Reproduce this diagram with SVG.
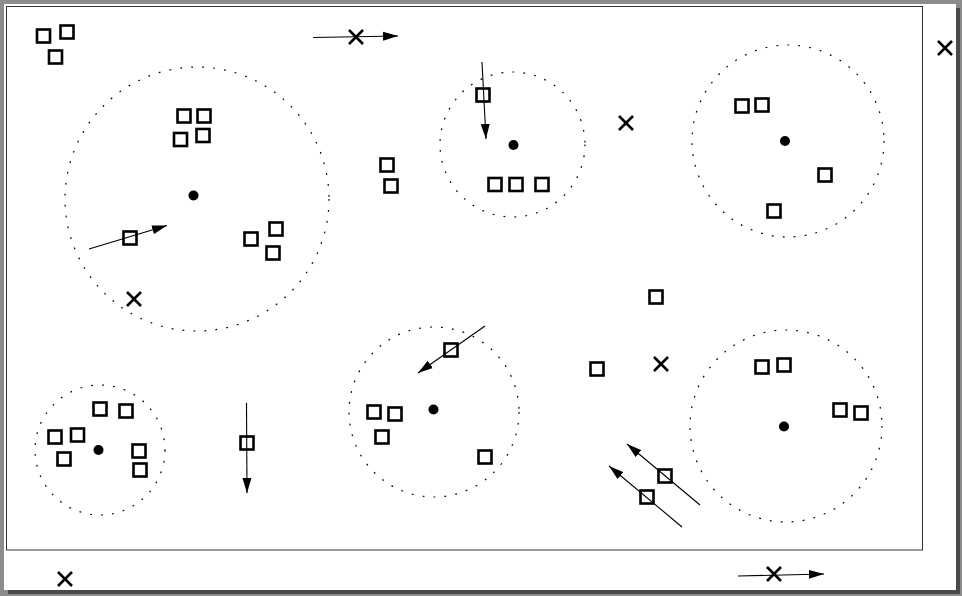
<svg xmlns="http://www.w3.org/2000/svg" width="962" height="596" viewBox="0 0 962 596">
<style>
.sq{fill:none;stroke:#000;stroke-width:2.6}
.cl{fill:none;stroke:#000;stroke-width:1.2;stroke-dasharray:1.8 9.2}
.dot{fill:#000}
.ln{fill:none;stroke:#000;stroke-width:1.1}
.x{fill:none;stroke:#000;stroke-width:2.6}
</style>
<defs>
<marker id="ah" markerUnits="userSpaceOnUse" markerWidth="16" markerHeight="10" refX="15" refY="5" orient="auto">
<path d="M0,0.5 L15,5 L0,9.5 z" fill="#000"/>
</marker>
<g id="xm"><path d="M-7,-7 L7,7 M-7,7 L7,-7" class="x"/></g>
</defs>
<rect x="0" y="0" width="962" height="596" fill="#8c8c8c"/>
<rect x="8" y="8" width="952" height="586" fill="#4a4a4a"/>
<rect x="4" y="4" width="952" height="586" fill="#ffffff"/>
<rect x="6.5" y="6.5" width="916" height="543.5" fill="none" stroke="#333" stroke-width="1"/>

<g id="cluster1">
<circle cx="197" cy="199" r="132" class="cl"/>
<circle cx="193.5" cy="195.5" r="5" class="dot"/>
<rect x="177.5" y="109.5" width="13" height="13" class="sq"/>
<rect x="197.5" y="109.5" width="13" height="13" class="sq"/>
<rect x="174" y="133" width="13" height="13" class="sq"/>
<rect x="196.5" y="129" width="13" height="13" class="sq"/>
<rect x="244.5" y="232.5" width="13" height="13" class="sq"/>
<rect x="269.5" y="222.5" width="13" height="13" class="sq"/>
<rect x="266.5" y="246.5" width="13" height="13" class="sq"/>
<rect x="123.5" y="231.5" width="13" height="13" class="sq"/>
</g>
<g id="cluster2">
<circle cx="512.5" cy="144.5" r="72.5" class="cl"/>
<circle cx="513.5" cy="145" r="5" class="dot"/>
<rect x="476.5" y="88.5" width="13" height="13" class="sq"/>
<rect x="488.5" y="178" width="13" height="13" class="sq"/>
<rect x="509.5" y="178" width="13" height="13" class="sq"/>
<rect x="535.5" y="178" width="13" height="13" class="sq"/>
</g>
<g id="cluster3">
<circle cx="788" cy="141" r="96" class="cl"/>
<circle cx="785" cy="141" r="5" class="dot"/>
<rect x="735.5" y="99.5" width="13" height="13" class="sq"/>
<rect x="755.5" y="98.5" width="13" height="13" class="sq"/>
<rect x="818.5" y="168.5" width="13" height="13" class="sq"/>
<rect x="767.5" y="204.5" width="13" height="13" class="sq"/>
</g>
<g id="cluster4">
<circle cx="100" cy="450" r="65" class="cl"/>
<circle cx="98.5" cy="450" r="5" class="dot"/>
<rect x="93.5" y="402.5" width="13" height="13" class="sq"/>
<rect x="119.5" y="404.5" width="13" height="13" class="sq"/>
<rect x="48.5" y="430.5" width="13" height="13" class="sq"/>
<rect x="71" y="428.5" width="13" height="13" class="sq"/>
<rect x="57.5" y="452.5" width="13" height="13" class="sq"/>
<rect x="132.5" y="444.5" width="13" height="13" class="sq"/>
<rect x="133.5" y="463.5" width="13" height="13" class="sq"/>
</g>
<g id="cluster5">
<circle cx="434" cy="412" r="85" class="cl"/>
<circle cx="433.5" cy="409.5" r="5" class="dot"/>
<rect x="444.5" y="343.5" width="13" height="13" class="sq"/>
<rect x="367.5" y="405.5" width="13" height="13" class="sq"/>
<rect x="388.5" y="407.5" width="13" height="13" class="sq"/>
<rect x="375.5" y="430.5" width="13" height="13" class="sq"/>
<rect x="478.5" y="450.5" width="13" height="13" class="sq"/>
</g>
<g id="cluster6">
<circle cx="786" cy="426" r="96" class="cl"/>
<circle cx="784" cy="426.5" r="5" class="dot"/>
<rect x="755.5" y="360.5" width="13" height="13" class="sq"/>
<rect x="777.5" y="358.5" width="13" height="13" class="sq"/>
<rect x="833.5" y="403.5" width="13" height="13" class="sq"/>
<rect x="854.5" y="406.5" width="13" height="13" class="sq"/>
</g>
<g id="loose">
<rect x="37" y="29.5" width="13" height="13" class="sq"/>
<rect x="60.5" y="25.5" width="13" height="13" class="sq"/>
<rect x="49" y="50.5" width="13" height="13" class="sq"/>
<rect x="380.5" y="158.5" width="13" height="13" class="sq"/>
<rect x="384.5" y="179.5" width="13" height="13" class="sq"/>
<rect x="649.5" y="290.5" width="13" height="13" class="sq"/>
<rect x="590.5" y="362.5" width="13" height="13" class="sq"/>
<rect x="240.5" y="436.5" width="13" height="13" class="sq"/>
<rect x="658.5" y="469.5" width="13" height="13" class="sq"/>
<rect x="640.5" y="490.5" width="13" height="13" class="sq"/>
<use href="#xm" x="356" y="37"/>
<use href="#xm" x="945" y="48"/>
<use href="#xm" x="626" y="123"/>
<use href="#xm" x="134" y="299"/>
<use href="#xm" x="661" y="364"/>
<use href="#xm" x="65" y="579"/>
<use href="#xm" x="774" y="574"/>
</g>
<g id="connectors">
<path d="M313,37.5 L398,36" class="ln" marker-end="url(#ah)"/>
<path d="M482,62 L486,139" class="ln" marker-end="url(#ah)"/>
<path d="M89,249 L167,225.5" class="ln" marker-end="url(#ah)"/>
<path d="M485,326 L418,373" class="ln" marker-end="url(#ah)"/>
<path d="M246.5,403 L247,493" class="ln" marker-end="url(#ah)"/>
<path d="M700,505 L627,444" class="ln" marker-end="url(#ah)"/>
<path d="M682,527 L609,466" class="ln" marker-end="url(#ah)"/>
<path d="M738,576 L824,574" class="ln" marker-end="url(#ah)"/>
</g>
</svg>
